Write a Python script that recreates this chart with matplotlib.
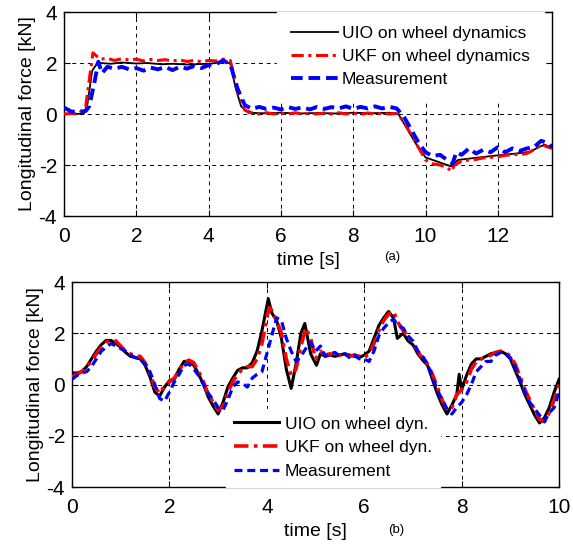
import numpy as np
import matplotlib
matplotlib.use("Agg")
import matplotlib.pyplot as plt

plt.rcParams['font.family'] = ['Liberation Sans', 'DejaVu Sans']
plt.rcParams['axes.unicode_minus'] = False

# (a) longitudinal force, wheel dynamics estimators vs. measurement
t_uio_a = [0.0, 0.3, 0.55, 0.65, 0.78, 0.9, 1.0, 1.3, 1.6, 2.0, 2.3, 2.7, 3.0, 3.4, 3.8, 4.1,
           4.4, 4.6, 4.75, 4.9, 5.1, 5.5, 6.0, 6.5, 7.0, 7.5, 8.0, 8.5, 9.0, 9.25, 9.5, 9.75,
           10.0, 10.3, 10.5, 10.7, 10.9, 11.2, 11.5, 12.0, 12.5, 12.9, 13.1, 13.3, 13.5]
f_uio_a = [0.0, 0.0, 0.02, 0.4, 1.7, 1.95, 2.0, 1.97, 2.02, 1.98, 2.0, 1.95, 1.97, 1.94, 1.96, 1.98,
           2.05, 1.98, 1.0, 0.3, 0.05, 0.03, 0.05, 0.02, 0.04, 0.02, 0.05, 0.03, 0.05, 0.0, -0.6, -1.2,
           -1.7, -1.85, -1.95, -2.05, -1.8, -1.75, -1.7, -1.62, -1.55, -1.48, -1.32, -1.2, -1.35]

t_ukf_a = [0.0, 0.2, 0.4, 0.6, 0.8, 1.0, 1.2, 1.4, 1.6, 1.8, 2.0, 2.2, 2.4, 2.6, 2.8, 3.0,
           3.2, 3.4, 3.6, 3.8, 4.0, 4.2, 4.4, 4.6, 4.8, 5.0, 5.2, 5.4, 5.6, 5.8, 6.0, 6.2,
           6.4, 6.6, 6.8, 7.0, 7.2, 7.4, 7.6, 7.8, 8.0, 8.2, 8.4, 8.6, 8.8, 9.0, 9.2, 9.4,
           9.6, 9.8, 10.0, 10.2, 10.4, 10.6, 10.72, 10.8, 11.0, 11.2, 11.4, 11.6, 11.8, 12.0,
           12.2, 12.4, 12.6, 12.8, 13.0, 13.2, 13.4, 13.5]
f_ukf_a = [0.0, 0.02, 0.0, 0.3, 2.4, 2.15, 2.18, 2.1, 2.17, 2.12, 2.15, 2.08, 2.14, 2.1, 2.13, 2.08,
           2.12, 2.06, 2.1, 2.05, 2.1, 2.08, 2.15, 2.1, 0.9, 0.15, 0.05, 0.0, 0.05, 0.0, 0.03, 0.0,
           0.05, 0.0, 0.03, 0.0, 0.04, 0.0, 0.05, 0.0, 0.03, -0.02, 0.04, 0.0, 0.03, 0.0, 0.02, -0.3,
           -0.8, -1.3, -1.8, -1.95, -2.0, -2.1, -2.25, -2.0, -1.85, -1.8, -1.78, -1.72, -1.7, -1.68,
           -1.62, -1.6, -1.58, -1.55, -1.4, -1.2, -1.3, -1.35]

t_meas_a = [0.0, 0.2, 0.4, 0.6, 0.7, 0.85, 0.95, 1.05, 1.2, 1.4, 1.6, 1.8, 2.0, 2.2, 2.4, 2.6,
            2.8, 3.0, 3.2, 3.4, 3.6, 3.8, 4.0, 4.2, 4.4, 4.6, 4.8, 5.0, 5.2, 5.4, 5.6, 5.8,
            6.0, 6.2, 6.4, 6.6, 6.8, 7.0, 7.2, 7.4, 7.6, 7.8, 8.0, 8.2, 8.4, 8.6, 8.8, 9.0,
            9.2, 9.4, 9.6, 9.8, 10.0, 10.2, 10.4, 10.6, 10.75, 10.85, 11.0, 11.2, 11.4, 11.6,
            11.8, 12.0, 12.2, 12.4, 12.6, 12.8, 13.0, 13.2, 13.4, 13.5]
f_meas_a = [0.25, 0.1, 0.08, 0.12, 0.3, 1.3, 2.05, 1.6, 1.85, 1.78, 1.85, 1.75, 1.8, 1.7, 1.82, 1.75,
            1.85, 1.72, 1.85, 1.78, 1.88, 1.8, 1.92, 1.95, 2.1, 1.95, 1.0, 0.35, 0.2, 0.28, 0.2, 0.25,
            0.18, 0.27, 0.2, 0.26, 0.18, 0.28, 0.2, 0.27, 0.22, 0.3, 0.2, 0.28, 0.22, 0.3, 0.22, 0.28,
            0.22, -0.1, -0.6, -1.1, -1.5, -1.65, -1.6, -1.8, -1.95, -1.5, -1.6, -1.35, -1.55, -1.4,
            -1.5, -1.3, -1.5, -1.35, -1.45, -1.35, -1.3, -1.05, -1.15, -1.3]

# (b) second manoeuvre
t_uio_b = [0.0, 0.1, 0.2, 0.3, 0.4, 0.5, 0.6, 0.7, 0.8, 0.9, 1.0, 1.1, 1.2, 1.3, 1.4, 1.5,
           1.6, 1.7, 1.8, 1.9, 2.0, 2.1, 2.2, 2.3, 2.4, 2.5, 2.6, 2.7, 2.8, 2.9, 3.0, 3.1,
           3.2, 3.3, 3.4, 3.5, 3.6, 3.7, 3.8, 3.9, 4.03, 4.1, 4.2, 4.3, 4.4, 4.5, 4.6, 4.7,
           4.78, 4.9, 5.02, 5.1, 5.2, 5.3, 5.4, 5.5, 5.6, 5.7, 5.8, 5.9, 6.0, 6.1, 6.2, 6.3,
           6.4, 6.5, 6.6, 6.68, 6.8, 6.9, 7.0, 7.1, 7.2, 7.3, 7.4, 7.5, 7.6, 7.7, 7.8, 7.9,
           7.95, 8.0, 8.1, 8.2, 8.3, 8.4, 8.5, 8.6, 8.7, 8.8, 8.9, 9.0, 9.1, 9.2, 9.3, 9.4,
           9.5, 9.6, 9.7, 9.8, 9.9, 10.0]
f_uio_b = [0.45, 0.45, 0.5, 0.7, 1.0, 1.3, 1.55, 1.72, 1.72, 1.6, 1.45, 1.25, 1.1, 1.05, 1.0, 0.75,
           0.3, -0.3, -0.45, -0.1, 0.15, 0.2, 0.6, 0.9, 0.9, 0.75, 0.4, 0.0, -0.5, -0.85, -1.15, -0.7,
           -0.1, 0.25, 0.55, 0.65, 0.65, 0.85, 1.3, 2.1, 3.35, 2.8, 2.5, 1.8, 0.6, -0.15, 0.8, 2.0,
           2.38, 1.2, 0.75, 1.2, 1.1, 1.15, 1.1, 1.15, 1.2, 1.15, 1.1, 1.05, 1.15, 1.3, 1.8, 2.3,
           2.6, 2.85, 2.6, 1.8, 2.0, 1.7, 1.55, 1.2, 0.95, 0.75, 0.2, -0.35, -0.8, -1.15, -0.8, -0.4,
           0.4, -0.2, 0.35, 0.8, 1.0, 1.0, 1.1, 1.2, 1.25, 1.3, 1.2, 1.0, 0.55, 0.1, -0.4, -0.8,
           -1.2, -1.5, -1.3, -0.9, -0.3, 0.2]

t_ukf_b = [0.0, 0.1, 0.2, 0.3, 0.4, 0.5, 0.6, 0.7, 0.8, 0.9, 1.0, 1.1, 1.2, 1.3, 1.4, 1.5,
           1.6, 1.7, 1.8, 1.9, 2.0, 2.1, 2.2, 2.3, 2.4, 2.5, 2.6, 2.7, 2.8, 2.9, 3.0, 3.1,
           3.2, 3.3, 3.4, 3.5, 3.6, 3.7, 3.8, 3.9, 4.0, 4.05, 4.1, 4.2, 4.3, 4.4, 4.5, 4.6,
           4.7, 4.8, 4.9, 5.0, 5.1, 5.2, 5.3, 5.4, 5.5, 5.6, 5.7, 5.8, 5.9, 6.0, 6.1, 6.2,
           6.3, 6.4, 6.5, 6.6, 6.7, 6.8, 6.9, 7.0, 7.1, 7.2, 7.3, 7.4, 7.5, 7.6, 7.7, 7.8,
           7.9, 8.0, 8.1, 8.2, 8.3, 8.4, 8.5, 8.6, 8.7, 8.8, 8.9, 9.0, 9.1, 9.2, 9.3, 9.4,
           9.5, 9.6, 9.7, 9.8, 9.9, 10.0]
f_ukf_b = [0.3, 0.4, 0.5, 0.7, 0.9, 1.2, 1.45, 1.65, 1.7, 1.7, 1.5, 1.3, 1.2, 1.1, 1.1, 0.85,
           0.45, -0.1, -0.35, -0.05, 0.1, 0.25, 0.55, 0.85, 0.95, 0.85, 0.5, 0.1, -0.4, -0.7, -1.0, -0.85,
           -0.3, 0.1, 0.4, 0.6, 0.7, 0.7, 1.0, 1.6, 2.6, 3.0, 2.9, 2.5, 2.0, 1.0, 0.35, 0.6,
           1.5, 2.2, 1.8, 1.0, 1.3, 1.15, 1.2, 1.1, 1.15, 1.2, 1.1, 1.15, 1.1, 1.05, 1.2, 1.6,
           2.1, 2.5, 2.75, 2.85, 2.4, 2.1, 1.9, 1.6, 1.3, 1.0, 0.8, 0.4, -0.1, -0.6, -1.0, -0.9,
           -0.4, -0.2, 0.1, 0.6, 0.9, 1.0, 1.05, 1.15, 1.25, 1.3, 1.25, 1.1, 0.8, 0.3, -0.2, -0.6,
           -1.0, -1.35, -1.45, -1.1, -0.6, 0.0]

t_meas_b = t_ukf_b[:40] + [4.0, 4.1, 4.2, 4.3, 4.4, 4.5, 4.6, 4.7, 4.8, 4.9, 5.0] + t_ukf_b[52:]
f_meas_b = [0.2, 0.35, 0.45, 0.5, 0.7, 1.0, 1.3, 1.45, 1.6, 1.5, 1.4, 1.3, 1.15, 1.05, 1.0, 0.8,
            0.5, 0.0, -0.55, -0.65, -0.3, 0.1, 0.4, 0.75, 0.8, 0.6, 0.35, 0.0, -0.35, -0.6, -0.9, -1.0,
            -0.6, -0.1, 0.1, 0.05, -0.1, 0.25, 0.4, 0.5, 1.2, 1.9, 2.6, 2.5, 1.8, 1.3, 0.9, 1.1,
            1.4, 1.65, 1.3, 1.5, 1.1, 1.2, 1.25, 1.1, 1.2, 1.05, 1.15, 1.0, 1.0, 0.9, 1.3,
            1.9, 2.2, 2.4, 2.55, 2.3, 2.2, 1.9, 1.7, 1.3, 1.1, 0.8, 0.3, -0.2, -0.6, -0.95, -1.15,
            -0.9, -0.7, -0.4, 0.0, 0.5, 0.7, 0.9, 0.9, 1.15, 1.25, 1.2, 1.05, 0.7, 0.2, -0.3, -0.7,
            -0.95, -1.2, -1.45, -1.1, -0.9, -0.3]

yticks = [-4, -2, 0, 2, 4]

fig = plt.figure(figsize=(5.73, 5.48), dpi=100)
ax1 = fig.add_axes([0.1117, 0.6058, 0.8517, 0.3723])
ax2 = fig.add_axes([0.1257, 0.1113, 0.8499, 0.3741])


def style_axes(ax, xmax, xticks):
    ax.set_xlim(0, xmax)
    ax.set_ylim(-4, 4)
    ax.set_xticks(xticks)
    ax.set_yticks(yticks)
    ax.grid(True, color='black', linestyle=(0, (4, 4)), linewidth=0.7)
    ax.tick_params(direction='in', length=4, width=0.8, labelsize=15, pad=5,
                   top=True, right=True)
    ax.tick_params(axis='x', pad=8)
    for s in ax.spines.values():
        s.set_linewidth(1.0)
    ax.set_ylabel('Longitudinal force [kN]', fontsize=14, labelpad=2)
    ax.set_xlabel('time [s]', fontsize=14, labelpad=4)


# top panel
ax1.plot(t_uio_a, f_uio_a, color='black', lw=1.3, label='UIO on wheel dynamics', zorder=3)
ax1.plot(t_ukf_a, f_ukf_a, color='red', lw=2.2, linestyle=(0, (4, 1.5, 1, 1.5)),
         label='UKF on wheel dynamics', zorder=4)
ax1.plot(t_meas_a, f_meas_a, color='blue', lw=2.8, linestyle=(0, (3, 1.5)),
         label='Measurement', zorder=5)
style_axes(ax1, 13.5, [0, 2, 4, 6, 8, 10, 12])
leg1 = ax1.legend(loc='upper left', bbox_to_anchor=(0.436, 1.0), fontsize=12.5,
                  frameon=True, fancybox=False, framealpha=1, edgecolor='white',
                  borderaxespad=0, handlelength=2.7, handletextpad=0.25,
                  labelspacing=0.45, borderpad=0.8)
leg1.set_zorder(10)
ax1.text(0.672, -0.2, '(a)', transform=ax1.transAxes, fontsize=9.5, ha='center', va='center')

# bottom panel
ax2.plot(t_uio_b, f_uio_b, color='black', lw=2.2, label='UIO on wheel dyn.', zorder=3)
ax2.plot(t_ukf_b, f_ukf_b, color='red', lw=2.6, linestyle=(0, (4, 1.5, 1, 1.5)),
         label='UKF on wheel dyn.', zorder=4)
ax2.plot(t_meas_b, f_meas_b, color='blue', lw=2.3, linestyle=(0, (2.5, 1.5)),
         label='Measurement', zorder=5)
style_axes(ax2, 10, [0, 2, 4, 6, 8, 10])
leg2 = ax2.legend(loc='lower left', bbox_to_anchor=(0.317, 0.0), fontsize=12.5,
                  frameon=True, fancybox=False, framealpha=1, edgecolor='white',
                  borderaxespad=0, handlelength=2.6, handletextpad=0.3,
                  labelspacing=0.5, borderpad=0.45)
leg2.set_zorder(10)
ax2.text(0.665, -0.21, '(b)', transform=ax2.transAxes, fontsize=9.5, ha='center', va='center')

fig.savefig('out.png', dpi=100)
